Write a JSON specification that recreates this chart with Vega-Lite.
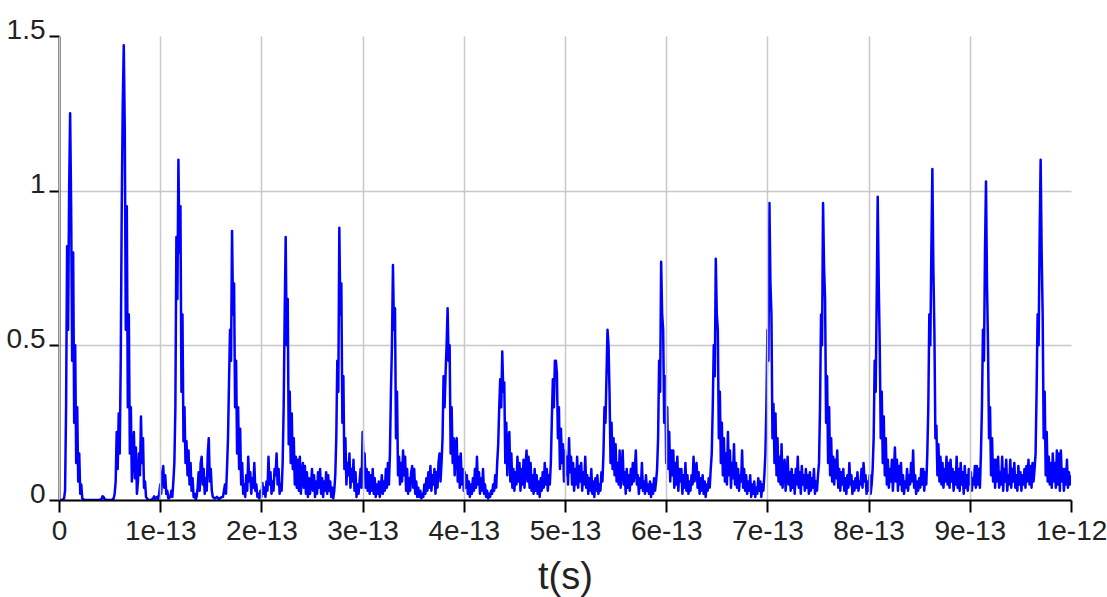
{
"$schema": "https://vega.github.io/schema/vega-lite/v6.json",
"width": 1012,
"height": 464,
"autosize": {"type": "none"},
"padding": {"left": 59, "top": 36, "right": 36, "bottom": 97},
"background": "white",
"config": {
  "view": {"stroke": null},
  "axis": {
    "domainColor": "#000000", "domainWidth": 2,
    "tickColor": "#000000", "tickWidth": 2,
    "labelFont": "Liberation Sans", "labelFontSize": 28, "labelColor": "#222222",
    "gridColor": "#c8c8c8", "gridWidth": 1.5,
    "titleFont": "Liberation Sans", "titleFontSize": 38, "titleFontWeight": "normal", "titleColor": "#222222"
  }
},
"data": {"values": [
{"t":0,"v":0},{"t":3e-15,"v":0},{"t":5e-15,"v":0.005},{"t":6e-15,"v":0.03},{"t":7e-15,"v":0.3},{"t":8e-15,"v":0.82},{"t":9e-15,"v":0.55},{"t":10e-15,"v":1.0},{"t":11e-15,"v":1.25},{"t":12e-15,"v":0.95},{"t":13e-15,"v":0.45},{"t":14e-15,"v":0.8},{"t":15e-15,"v":0.25},{"t":16e-15,"v":0.5},{"t":17e-15,"v":0.12},{"t":18e-15,"v":0.3},{"t":19e-15,"v":0.06},{"t":20e-15,"v":0.15},{"t":21e-15,"v":0.02},{"t":22e-15,"v":0.05},{"t":23e-15,"v":0.005},{"t":25e-15,"v":0},{"t":30e-15,"v":0},{"t":35e-15,"v":0},{"t":40e-15,"v":0},{"t":42e-15,"v":0.003},{"t":43e-15,"v":0.012},{"t":44e-15,"v":0.01},{"t":45e-15,"v":0.003},{"t":47e-15,"v":0},{"t":52e-15,"v":0},{"t":54e-15,"v":0.005},{"t":55e-15,"v":0.02},{"t":56e-15,"v":0.06},{"t":57e-15,"v":0.22},{"t":58e-15,"v":0.1},{"t":59e-15,"v":0.28},{"t":60e-15,"v":0.15},{"t":61e-15,"v":0.45},{"t":62e-15,"v":0.95},{"t":63e-15,"v":1.28},{"t":64e-15,"v":1.47},{"t":65e-15,"v":1.2},{"t":66e-15,"v":0.55},{"t":67e-15,"v":0.95},{"t":68e-15,"v":0.3},{"t":69e-15,"v":0.6},{"t":70e-15,"v":0.15},{"t":71e-15,"v":0.3},{"t":72e-15,"v":0.06},{"t":73e-15,"v":0.15},{"t":74e-15,"v":0.22},{"t":75e-15,"v":0.07},{"t":76e-15,"v":0.17},{"t":77e-15,"v":0.02},{"t":78e-15,"v":0.06},{"t":79e-15,"v":0.15},{"t":80e-15,"v":0.08},{"t":81e-15,"v":0.27},{"t":82e-15,"v":0.12},{"t":83e-15,"v":0.2},{"t":84e-15,"v":0.04},{"t":85e-15,"v":0.06},{"t":86e-15,"v":0.01},{"t":88e-15,"v":0},{"t":91e-15,"v":0},{"t":93e-15,"v":0.005},{"t":94e-15,"v":0.012},{"t":95e-15,"v":0.004},{"t":97e-15,"v":0.01},{"t":98e-15,"v":0.003},{"t":99e-15,"v":0.02},{"t":100e-15,"v":0.05},{"t":101e-15,"v":0.02},{"t":102e-15,"v":0.09},{"t":103e-15,"v":0.11},{"t":104e-15,"v":0.04},{"t":105e-15,"v":0.08},{"t":106e-15,"v":0.02},{"t":107e-15,"v":0.03},{"t":108e-15,"v":0.005},{"t":110e-15,"v":0.01},{"t":111e-15,"v":0.03},{"t":112e-15,"v":0.01},{"t":113e-15,"v":0.06},{"t":114e-15,"v":0.12},{"t":115e-15,"v":0.3},{"t":116e-15,"v":0.85},{"t":117e-15,"v":0.65},{"t":118e-15,"v":1.1},{"t":119e-15,"v":0.8},{"t":120e-15,"v":0.95},{"t":121e-15,"v":0.35},{"t":122e-15,"v":0.6},{"t":123e-15,"v":0.19},{"t":124e-15,"v":0.3},{"t":125e-15,"v":0.12},{"t":126e-15,"v":0.19},{"t":127e-15,"v":0.08},{"t":128e-15,"v":0.16},{"t":129e-15,"v":0.05},{"t":130e-15,"v":0.12},{"t":131e-15,"v":0.03},{"t":132e-15,"v":0.07},{"t":133e-15,"v":0.01},{"t":134e-15,"v":0.02},{"t":135e-15,"v":0.003},{"t":136e-15,"v":0.01},{"t":137e-15,"v":0.04},{"t":138e-15,"v":0.09},{"t":139e-15,"v":0.03},{"t":140e-15,"v":0.12},{"t":141e-15,"v":0.14},{"t":142e-15,"v":0.05},{"t":143e-15,"v":0.1},{"t":144e-15,"v":0.02},{"t":145e-15,"v":0.07},{"t":146e-15,"v":0.03},{"t":147e-15,"v":0.15},{"t":148e-15,"v":0.2},{"t":149e-15,"v":0.06},{"t":150e-15,"v":0.1},{"t":151e-15,"v":0.03},{"t":152e-15,"v":0.01},{"t":154e-15,"v":0.005},{"t":156e-15,"v":0.01},{"t":158e-15,"v":0.003},{"t":160e-15,"v":0.008},{"t":162e-15,"v":0.01},{"t":163e-15,"v":0.03},{"t":164e-15,"v":0.05},{"t":165e-15,"v":0.02},{"t":166e-15,"v":0.1},{"t":167e-15,"v":0.2},{"t":168e-15,"v":0.38},{"t":169e-15,"v":0.55},{"t":170e-15,"v":0.45},{"t":171e-15,"v":0.87},{"t":172e-15,"v":0.6},{"t":173e-15,"v":0.7},{"t":174e-15,"v":0.3},{"t":175e-15,"v":0.45},{"t":176e-15,"v":0.15},{"t":177e-15,"v":0.3},{"t":178e-15,"v":0.1},{"t":179e-15,"v":0.23},{"t":180e-15,"v":0.05},{"t":181e-15,"v":0.12},{"t":182e-15,"v":0.02},{"t":183e-15,"v":0.05},{"t":184e-15,"v":0.01},{"t":185e-15,"v":0.08},{"t":186e-15,"v":0.03},{"t":187e-15,"v":0.14},{"t":188e-15,"v":0.06},{"t":189e-15,"v":0.09},{"t":190e-15,"v":0.02},{"t":191e-15,"v":0.07},{"t":192e-15,"v":0.04},{"t":193e-15,"v":0.12},{"t":194e-15,"v":0.03},{"t":195e-15,"v":0.05},{"t":196e-15,"v":0.01},{"t":197e-15,"v":0.02},{"t":198e-15,"v":0.005},{"t":199e-15,"v":0.03},{"t":200e-15,"v":0.01},{"t":201e-15,"v":0.055},{"t":202e-15,"v":0.02},{"t":203e-15,"v":0.04},{"t":204e-15,"v":0.01},{"t":205e-15,"v":0.06},{"t":206e-15,"v":0.03},{"t":207e-15,"v":0.14},{"t":208e-15,"v":0.05},{"t":209e-15,"v":0.09},{"t":210e-15,"v":0.02},{"t":211e-15,"v":0.06},{"t":212e-15,"v":0.03},{"t":213e-15,"v":0.1},{"t":214e-15,"v":0.08},{"t":215e-15,"v":0.15},{"t":216e-15,"v":0.05},{"t":217e-15,"v":0.1},{"t":218e-15,"v":0.02},{"t":219e-15,"v":0.05},{"t":220e-15,"v":0.03},{"t":221e-15,"v":0.12},{"t":222e-15,"v":0.3},{"t":223e-15,"v":0.6},{"t":224e-15,"v":0.85},{"t":225e-15,"v":0.5},{"t":226e-15,"v":0.65},{"t":227e-15,"v":0.18},{"t":228e-15,"v":0.35},{"t":229e-15,"v":0.12},{"t":230e-15,"v":0.28},{"t":231e-15,"v":0.1},{"t":232e-15,"v":0.2},{"t":233e-15,"v":0.05},{"t":234e-15,"v":0.14},{"t":235e-15,"v":0.04},{"t":236e-15,"v":0.13},{"t":237e-15,"v":0.03},{"t":238e-15,"v":0.14},{"t":239e-15,"v":0.02},{"t":240e-15,"v":0.08},{"t":241e-15,"v":0.12},{"t":242e-15,"v":0.04},{"t":243e-15,"v":0.11},{"t":244e-15,"v":0.02},{"t":245e-15,"v":0.09},{"t":246e-15,"v":0.01},{"t":247e-15,"v":0.07},{"t":248e-15,"v":0.02},{"t":249e-15,"v":0.05},
{"t":250e-15,"v":0.1},{"t":251e-15,"v":0.03},{"t":252e-15,"v":0.08},{"t":253e-15,"v":0.01},{"t":254e-15,"v":0.06},{"t":255e-15,"v":0.02},{"t":256e-15,"v":0.09},{"t":257e-15,"v":0.04},{"t":258e-15,"v":0.1},{"t":259e-15,"v":0.02},{"t":260e-15,"v":0.07},{"t":261e-15,"v":0.01},{"t":262e-15,"v":0.06},{"t":263e-15,"v":0.03},{"t":264e-15,"v":0.09},{"t":265e-15,"v":0.02},{"t":266e-15,"v":0.08},{"t":267e-15,"v":0.03},{"t":268e-15,"v":0.06},{"t":269e-15,"v":0.01},{"t":270e-15,"v":0.04},{"t":271e-15,"v":0.005},{"t":272e-15,"v":0.03},{"t":273e-15,"v":0.08},{"t":274e-15,"v":0.2},{"t":275e-15,"v":0.45},{"t":276e-15,"v":0.35},{"t":277e-15,"v":0.88},{"t":278e-15,"v":0.6},{"t":279e-15,"v":0.7},{"t":280e-15,"v":0.25},{"t":281e-15,"v":0.4},{"t":282e-15,"v":0.1},{"t":283e-15,"v":0.2},{"t":284e-15,"v":0.05},{"t":285e-15,"v":0.12},{"t":286e-15,"v":0.08},{"t":287e-15,"v":0.15},{"t":288e-15,"v":0.04},{"t":289e-15,"v":0.1},{"t":290e-15,"v":0.06},{"t":291e-15,"v":0.13},{"t":292e-15,"v":0.03},{"t":293e-15,"v":0.09},{"t":294e-15,"v":0.01},{"t":295e-15,"v":0.05},{"t":296e-15,"v":0.02},{"t":297e-15,"v":0.06},{"t":298e-15,"v":0.1},{"t":299e-15,"v":0.04},{"t":300e-15,"v":0.22},{"t":301e-15,"v":0.12},{"t":302e-15,"v":0.15},{"t":303e-15,"v":0.04},{"t":304e-15,"v":0.1},{"t":305e-15,"v":0.03},{"t":306e-15,"v":0.09},{"t":307e-15,"v":0.02},{"t":308e-15,"v":0.08},{"t":309e-15,"v":0.03},{"t":310e-15,"v":0.1},{"t":311e-15,"v":0.02},{"t":312e-15,"v":0.07},{"t":313e-15,"v":0.01},{"t":314e-15,"v":0.05},{"t":315e-15,"v":0.02},{"t":316e-15,"v":0.06},{"t":317e-15,"v":0.01},{"t":318e-15,"v":0.04},{"t":319e-15,"v":0.08},{"t":320e-15,"v":0.02},{"t":321e-15,"v":0.06},{"t":322e-15,"v":0.03},{"t":323e-15,"v":0.1},{"t":324e-15,"v":0.04},{"t":325e-15,"v":0.12},{"t":326e-15,"v":0.05},{"t":327e-15,"v":0.15},{"t":328e-15,"v":0.35},{"t":329e-15,"v":0.5},{"t":330e-15,"v":0.76},{"t":331e-15,"v":0.55},{"t":332e-15,"v":0.62},{"t":333e-15,"v":0.2},{"t":334e-15,"v":0.35},{"t":335e-15,"v":0.08},{"t":336e-15,"v":0.14},{"t":337e-15,"v":0.05},{"t":338e-15,"v":0.12},{"t":339e-15,"v":0.06},{"t":340e-15,"v":0.16},{"t":341e-15,"v":0.08},{"t":342e-15,"v":0.14},{"t":343e-15,"v":0.03},{"t":344e-15,"v":0.1},{"t":345e-15,"v":0.02},{"t":346e-15,"v":0.07},{"t":347e-15,"v":0.03},{"t":348e-15,"v":0.09},{"t":349e-15,"v":0.11},{"t":350e-15,"v":0.04},{"t":351e-15,"v":0.1},{"t":352e-15,"v":0.02},{"t":353e-15,"v":0.06},{"t":354e-15,"v":0.01},{"t":355e-15,"v":0.04},{"t":356e-15,"v":0.01},{"t":357e-15,"v":0.03},{"t":358e-15,"v":0.005},{"t":359e-15,"v":0.02},{"t":360e-15,"v":0.01},{"t":361e-15,"v":0.05},{"t":362e-15,"v":0.02},{"t":363e-15,"v":0.07},{"t":364e-15,"v":0.03},{"t":365e-15,"v":0.09},{"t":366e-15,"v":0.04},{"t":367e-15,"v":0.11},{"t":368e-15,"v":0.03},{"t":369e-15,"v":0.08},{"t":370e-15,"v":0.05},{"t":371e-15,"v":0.1},{"t":372e-15,"v":0.02},{"t":373e-15,"v":0.09},{"t":374e-15,"v":0.04},{"t":375e-15,"v":0.12},{"t":376e-15,"v":0.15},{"t":377e-15,"v":0.06},{"t":378e-15,"v":0.12},{"t":379e-15,"v":0.2},{"t":380e-15,"v":0.4},{"t":381e-15,"v":0.3},{"t":382e-15,"v":0.41},{"t":383e-15,"v":0.5},{"t":384e-15,"v":0.62},{"t":385e-15,"v":0.45},{"t":386e-15,"v":0.5},{"t":387e-15,"v":0.15},{"t":388e-15,"v":0.3},{"t":389e-15,"v":0.12},{"t":390e-15,"v":0.2},{"t":391e-15,"v":0.08},{"t":392e-15,"v":0.18},{"t":393e-15,"v":0.2},{"t":394e-15,"v":0.06},{"t":395e-15,"v":0.14},{"t":396e-15,"v":0.04},{"t":397e-15,"v":0.15},{"t":398e-15,"v":0.05},{"t":399e-15,"v":0.1},{"t":400e-15,"v":0.03},{"t":401e-15,"v":0.09},{"t":402e-15,"v":0.04},{"t":403e-15,"v":0.08},{"t":404e-15,"v":0.02},{"t":405e-15,"v":0.06},{"t":406e-15,"v":0.01},{"t":407e-15,"v":0.05},{"t":408e-15,"v":0.02},{"t":409e-15,"v":0.07},{"t":410e-15,"v":0.03},{"t":411e-15,"v":0.1},{"t":412e-15,"v":0.04},{"t":413e-15,"v":0.14},{"t":414e-15,"v":0.05},{"t":415e-15,"v":0.09},{"t":416e-15,"v":0.02},{"t":417e-15,"v":0.07},{"t":418e-15,"v":0.03},{"t":419e-15,"v":0.1},{"t":420e-15,"v":0.02},{"t":421e-15,"v":0.05},{"t":422e-15,"v":0.01},{"t":423e-15,"v":0.03},{"t":424e-15,"v":0.005},{"t":425e-15,"v":0.02},{"t":426e-15,"v":0.01},{"t":427e-15,"v":0.03},{"t":428e-15,"v":0.02},{"t":429e-15,"v":0.05},{"t":430e-15,"v":0.03},{"t":431e-15,"v":0.08},{"t":432e-15,"v":0.04},{"t":433e-15,"v":0.12},{"t":434e-15,"v":0.18},{"t":435e-15,"v":0.3},{"t":436e-15,"v":0.39},{"t":437e-15,"v":0.3},{"t":438e-15,"v":0.48},{"t":439e-15,"v":0.35},{"t":440e-15,"v":0.38},{"t":441e-15,"v":0.12},{"t":442e-15,"v":0.25},{"t":443e-15,"v":0.08},{"t":444e-15,"v":0.2},{"t":445e-15,"v":0.22},{"t":446e-15,"v":0.06},{"t":447e-15,"v":0.15},{"t":448e-15,"v":0.04},{"t":449e-15,"v":0.1},
{"t":450e-15,"v":0.03},{"t":451e-15,"v":0.09},{"t":452e-15,"v":0.05},{"t":453e-15,"v":0.14},{"t":454e-15,"v":0.06},{"t":455e-15,"v":0.12},{"t":456e-15,"v":0.03},{"t":457e-15,"v":0.1},{"t":458e-15,"v":0.05},{"t":459e-15,"v":0.13},{"t":460e-15,"v":0.04},{"t":461e-15,"v":0.11},{"t":462e-15,"v":0.16},{"t":463e-15,"v":0.06},{"t":464e-15,"v":0.14},{"t":465e-15,"v":0.04},{"t":466e-15,"v":0.12},{"t":467e-15,"v":0.03},{"t":468e-15,"v":0.08},{"t":469e-15,"v":0.02},{"t":470e-15,"v":0.1},{"t":471e-15,"v":0.03},{"t":472e-15,"v":0.08},{"t":473e-15,"v":0.02},{"t":474e-15,"v":0.06},{"t":475e-15,"v":0.01},{"t":476e-15,"v":0.07},{"t":477e-15,"v":0.03},{"t":478e-15,"v":0.09},{"t":479e-15,"v":0.04},{"t":480e-15,"v":0.12},{"t":481e-15,"v":0.05},{"t":482e-15,"v":0.1},{"t":483e-15,"v":0.03},{"t":484e-15,"v":0.08},{"t":485e-15,"v":0.05},{"t":486e-15,"v":0.12},{"t":487e-15,"v":0.26},{"t":488e-15,"v":0.39},{"t":489e-15,"v":0.3},{"t":490e-15,"v":0.45},{"t":491e-15,"v":0.45},{"t":492e-15,"v":0.41},{"t":493e-15,"v":0.2},{"t":494e-15,"v":0.3},{"t":495e-15,"v":0.1},{"t":496e-15,"v":0.23},{"t":497e-15,"v":0.12},{"t":498e-15,"v":0.18},{"t":499e-15,"v":0.06},{"t":500e-15,"v":0.16},{"t":501e-15,"v":0.08},{"t":502e-15,"v":0.14},{"t":503e-15,"v":0.05},{"t":504e-15,"v":0.2},{"t":505e-15,"v":0.09},{"t":506e-15,"v":0.14},{"t":507e-15,"v":0.05},{"t":508e-15,"v":0.12},{"t":509e-15,"v":0.03},{"t":510e-15,"v":0.1},{"t":511e-15,"v":0.05},{"t":512e-15,"v":0.14},{"t":513e-15,"v":0.04},{"t":514e-15,"v":0.11},{"t":515e-15,"v":0.06},{"t":516e-15,"v":0.12},{"t":517e-15,"v":0.03},{"t":518e-15,"v":0.09},{"t":519e-15,"v":0.05},{"t":520e-15,"v":0.14},{"t":521e-15,"v":0.04},{"t":522e-15,"v":0.08},{"t":523e-15,"v":0.02},{"t":524e-15,"v":0.07},{"t":525e-15,"v":0.03},{"t":526e-15,"v":0.1},{"t":527e-15,"v":0.02},{"t":528e-15,"v":0.06},{"t":529e-15,"v":0.01},{"t":530e-15,"v":0.07},{"t":531e-15,"v":0.03},{"t":532e-15,"v":0.08},{"t":533e-15,"v":0.02},{"t":534e-15,"v":0.05},{"t":535e-15,"v":0.03},{"t":536e-15,"v":0.09},{"t":537e-15,"v":0.06},{"t":538e-15,"v":0.15},{"t":539e-15,"v":0.3},{"t":540e-15,"v":0.25},{"t":541e-15,"v":0.4},{"t":542e-15,"v":0.55},{"t":543e-15,"v":0.5},{"t":544e-15,"v":0.35},{"t":545e-15,"v":0.12},{"t":546e-15,"v":0.25},{"t":547e-15,"v":0.1},{"t":548e-15,"v":0.2},{"t":549e-15,"v":0.08},{"t":550e-15,"v":0.18},{"t":551e-15,"v":0.06},{"t":552e-15,"v":0.12},{"t":553e-15,"v":0.05},{"t":554e-15,"v":0.16},{"t":555e-15,"v":0.04},{"t":556e-15,"v":0.1},{"t":557e-15,"v":0.16},{"t":558e-15,"v":0.05},{"t":559e-15,"v":0.09},{"t":560e-15,"v":0.02},{"t":561e-15,"v":0.1},{"t":562e-15,"v":0.04},{"t":563e-15,"v":0.08},{"t":564e-15,"v":0.03},{"t":565e-15,"v":0.1},{"t":566e-15,"v":0.05},{"t":567e-15,"v":0.12},{"t":568e-15,"v":0.06},{"t":569e-15,"v":0.1},{"t":570e-15,"v":0.16},{"t":571e-15,"v":0.05},{"t":572e-15,"v":0.08},{"t":573e-15,"v":0.02},{"t":574e-15,"v":0.07},{"t":575e-15,"v":0.04},{"t":576e-15,"v":0.12},{"t":577e-15,"v":0.03},{"t":578e-15,"v":0.06},{"t":579e-15,"v":0.02},{"t":580e-15,"v":0.08},{"t":581e-15,"v":0.03},{"t":582e-15,"v":0.05},{"t":583e-15,"v":0.02},{"t":584e-15,"v":0.06},{"t":585e-15,"v":0.01},{"t":586e-15,"v":0.05},{"t":587e-15,"v":0.02},{"t":588e-15,"v":0.07},{"t":589e-15,"v":0.03},{"t":590e-15,"v":0.06},{"t":591e-15,"v":0.1},{"t":592e-15,"v":0.2},{"t":593e-15,"v":0.45},{"t":594e-15,"v":0.35},{"t":595e-15,"v":0.77},{"t":596e-15,"v":0.6},{"t":597e-15,"v":0.55},{"t":598e-15,"v":0.25},{"t":599e-15,"v":0.4},{"t":600e-15,"v":0.12},{"t":601e-15,"v":0.3},{"t":602e-15,"v":0.1},{"t":603e-15,"v":0.22},{"t":604e-15,"v":0.06},{"t":605e-15,"v":0.16},{"t":606e-15,"v":0.08},{"t":607e-15,"v":0.16},{"t":608e-15,"v":0.04},{"t":609e-15,"v":0.12},{"t":610e-15,"v":0.05},{"t":611e-15,"v":0.14},{"t":612e-15,"v":0.03},{"t":613e-15,"v":0.1},{"t":614e-15,"v":0.06},{"t":615e-15,"v":0.1},{"t":616e-15,"v":0.02},{"t":617e-15,"v":0.08},{"t":618e-15,"v":0.04},{"t":619e-15,"v":0.12},{"t":620e-15,"v":0.03},{"t":621e-15,"v":0.08},{"t":622e-15,"v":0.02},{"t":623e-15,"v":0.06},{"t":624e-15,"v":0.03},{"t":625e-15,"v":0.08},{"t":626e-15,"v":0.05},{"t":627e-15,"v":0.14},{"t":628e-15,"v":0.06},{"t":629e-15,"v":0.1},{"t":630e-15,"v":0.12},{"t":631e-15,"v":0.04},{"t":632e-15,"v":0.09},{"t":633e-15,"v":0.02},{"t":634e-15,"v":0.07},{"t":635e-15,"v":0.03},{"t":636e-15,"v":0.08},{"t":637e-15,"v":0.02},{"t":638e-15,"v":0.06},{"t":639e-15,"v":0.01},{"t":640e-15,"v":0.05},{"t":641e-15,"v":0.03},{"t":642e-15,"v":0.07},{"t":643e-15,"v":0.04},{"t":644e-15,"v":0.1},{"t":645e-15,"v":0.15},{"t":646e-15,"v":0.3},{"t":647e-15,"v":0.5},{"t":648e-15,"v":0.4},{"t":649e-15,"v":0.78},{"t":650e-15,"v":0.6},{"t":651e-15,"v":0.55},{"t":652e-15,"v":0.2},{"t":653e-15,"v":0.35},{"t":654e-15,"v":0.12},{"t":655e-15,"v":0.25},{"t":656e-15,"v":0.08},{"t":657e-15,"v":0.2},{"t":658e-15,"v":0.06},{"t":659e-15,"v":0.15},{"t":660e-15,"v":0.05},{"t":661e-15,"v":0.22},{"t":662e-15,"v":0.08},{"t":663e-15,"v":0.16},{"t":664e-15,"v":0.04},{"t":665e-15,"v":0.12},{"t":666e-15,"v":0.07},{"t":667e-15,"v":0.18},{"t":668e-15,"v":0.05},{"t":669e-15,"v":0.12},{"t":670e-15,"v":0.04},{"t":671e-15,"v":0.1},{"t":672e-15,"v":0.03},{"t":673e-15,"v":0.08},{"t":674e-15,"v":0.06},{"t":675e-15,"v":0.16},{"t":676e-15,"v":0.04},{"t":677e-15,"v":0.1},{"t":678e-15,"v":0.03},{"t":679e-15,"v":0.08},{"t":680e-15,"v":0.02},{"t":681e-15,"v":0.06},{"t":682e-15,"v":0.03},{"t":683e-15,"v":0.08},{"t":684e-15,"v":0.01},{"t":685e-15,"v":0.05},{"t":686e-15,"v":0.02},{"t":687e-15,"v":0.06},{"t":688e-15,"v":0.01},{"t":689e-15,"v":0.04},{"t":690e-15,"v":0.02},{"t":691e-15,"v":0.07},{"t":692e-15,"v":0.03},{"t":693e-15,"v":0.06},{"t":694e-15,"v":0.01},{"t":695e-15,"v":0.05},{"t":696e-15,"v":0.03},{"t":697e-15,"v":0.08},{"t":698e-15,"v":0.15},{"t":699e-15,"v":0.3},
{"t":700e-15,"v":0.55},{"t":701e-15,"v":0.45},{"t":702e-15,"v":0.96},{"t":703e-15,"v":0.7},{"t":704e-15,"v":0.6},{"t":705e-15,"v":0.2},{"t":706e-15,"v":0.31},{"t":707e-15,"v":0.12},{"t":708e-15,"v":0.28},{"t":709e-15,"v":0.08},{"t":710e-15,"v":0.2},{"t":711e-15,"v":0.06},{"t":712e-15,"v":0.14},{"t":713e-15,"v":0.05},{"t":714e-15,"v":0.18},{"t":715e-15,"v":0.04},{"t":716e-15,"v":0.1},{"t":717e-15,"v":0.13},{"t":718e-15,"v":0.03},{"t":719e-15,"v":0.08},{"t":720e-15,"v":0.14},{"t":721e-15,"v":0.05},{"t":722e-15,"v":0.09},{"t":723e-15,"v":0.03},{"t":724e-15,"v":0.1},{"t":725e-15,"v":0.04},{"t":726e-15,"v":0.08},{"t":727e-15,"v":0.02},{"t":728e-15,"v":0.1},{"t":729e-15,"v":0.05},{"t":730e-15,"v":0.14},{"t":731e-15,"v":0.04},{"t":732e-15,"v":0.09},{"t":733e-15,"v":0.02},{"t":734e-15,"v":0.11},{"t":735e-15,"v":0.05},{"t":736e-15,"v":0.08},{"t":737e-15,"v":0.03},{"t":738e-15,"v":0.1},{"t":739e-15,"v":0.04},{"t":740e-15,"v":0.08},{"t":741e-15,"v":0.02},{"t":742e-15,"v":0.09},{"t":743e-15,"v":0.03},{"t":744e-15,"v":0.07},{"t":745e-15,"v":0.04},{"t":746e-15,"v":0.1},{"t":747e-15,"v":0.02},{"t":748e-15,"v":0.06},{"t":749e-15,"v":0.03},{"t":750e-15,"v":0.08},{"t":751e-15,"v":0.12},{"t":752e-15,"v":0.3},{"t":753e-15,"v":0.6},{"t":754e-15,"v":0.5},{"t":755e-15,"v":0.96},{"t":756e-15,"v":0.75},{"t":757e-15,"v":0.65},{"t":758e-15,"v":0.25},{"t":759e-15,"v":0.4},{"t":760e-15,"v":0.12},{"t":761e-15,"v":0.3},{"t":762e-15,"v":0.08},{"t":763e-15,"v":0.2},{"t":764e-15,"v":0.06},{"t":765e-15,"v":0.14},{"t":766e-15,"v":0.05},{"t":767e-15,"v":0.13},{"t":768e-15,"v":0.07},{"t":769e-15,"v":0.16},{"t":770e-15,"v":0.04},{"t":771e-15,"v":0.1},{"t":772e-15,"v":0.03},{"t":773e-15,"v":0.09},{"t":774e-15,"v":0.05},{"t":775e-15,"v":0.1},{"t":776e-15,"v":0.03},{"t":777e-15,"v":0.07},{"t":778e-15,"v":0.02},{"t":779e-15,"v":0.08},{"t":780e-15,"v":0.04},{"t":781e-15,"v":0.12},{"t":782e-15,"v":0.05},{"t":783e-15,"v":0.08},{"t":784e-15,"v":0.02},{"t":785e-15,"v":0.06},{"t":786e-15,"v":0.03},{"t":787e-15,"v":0.07},{"t":788e-15,"v":0.04},{"t":789e-15,"v":0.09},{"t":790e-15,"v":0.03},{"t":791e-15,"v":0.06},{"t":792e-15,"v":0.05},{"t":793e-15,"v":0.1},{"t":794e-15,"v":0.04},{"t":795e-15,"v":0.12},{"t":796e-15,"v":0.06},{"t":797e-15,"v":0.08},{"t":798e-15,"v":0.02},{"t":799e-15,"v":0.06},{"t":800e-15,"v":0.03},{"t":801e-15,"v":0.08},{"t":802e-15,"v":0.02},{"t":803e-15,"v":0.05},{"t":804e-15,"v":0.1},{"t":805e-15,"v":0.2},{"t":806e-15,"v":0.45},{"t":807e-15,"v":0.35},{"t":808e-15,"v":0.65},{"t":809e-15,"v":0.98},{"t":810e-15,"v":0.7},{"t":811e-15,"v":0.5},{"t":812e-15,"v":0.2},{"t":813e-15,"v":0.35},{"t":814e-15,"v":0.12},{"t":815e-15,"v":0.27},{"t":816e-15,"v":0.08},{"t":817e-15,"v":0.2},{"t":818e-15,"v":0.05},{"t":819e-15,"v":0.13},{"t":820e-15,"v":0.04},{"t":821e-15,"v":0.1},{"t":822e-15,"v":0.06},{"t":823e-15,"v":0.13},{"t":824e-15,"v":0.03},{"t":825e-15,"v":0.09},{"t":826e-15,"v":0.17},{"t":827e-15,"v":0.06},{"t":828e-15,"v":0.13},{"t":829e-15,"v":0.03},{"t":830e-15,"v":0.11},{"t":831e-15,"v":0.05},{"t":832e-15,"v":0.12},{"t":833e-15,"v":0.03},{"t":834e-15,"v":0.08},{"t":835e-15,"v":0.02},{"t":836e-15,"v":0.06},{"t":837e-15,"v":0.04},{"t":838e-15,"v":0.1},{"t":839e-15,"v":0.03},{"t":840e-15,"v":0.08},{"t":841e-15,"v":0.05},{"t":842e-15,"v":0.12},{"t":843e-15,"v":0.06},{"t":844e-15,"v":0.16},{"t":845e-15,"v":0.04},{"t":846e-15,"v":0.08},{"t":847e-15,"v":0.02},{"t":848e-15,"v":0.06},{"t":849e-15,"v":0.03},{"t":850e-15,"v":0.07},{"t":851e-15,"v":0.04},{"t":852e-15,"v":0.1},{"t":853e-15,"v":0.05},{"t":854e-15,"v":0.1},{"t":855e-15,"v":0.03},{"t":856e-15,"v":0.09},{"t":857e-15,"v":0.05},{"t":858e-15,"v":0.15},{"t":859e-15,"v":0.3},{"t":860e-15,"v":0.6},{"t":861e-15,"v":0.5},{"t":862e-15,"v":0.8},{"t":863e-15,"v":1.07},{"t":864e-15,"v":0.75},{"t":865e-15,"v":0.55},{"t":866e-15,"v":0.2},{"t":867e-15,"v":0.24},{"t":868e-15,"v":0.08},{"t":869e-15,"v":0.18},{"t":870e-15,"v":0.06},{"t":871e-15,"v":0.14},{"t":872e-15,"v":0.05},{"t":873e-15,"v":0.12},{"t":874e-15,"v":0.04},{"t":875e-15,"v":0.1},{"t":876e-15,"v":0.06},{"t":877e-15,"v":0.14},{"t":878e-15,"v":0.05},{"t":879e-15,"v":0.12},{"t":880e-15,"v":0.04},{"t":881e-15,"v":0.13},{"t":882e-15,"v":0.06},{"t":883e-15,"v":0.1},{"t":884e-15,"v":0.03},{"t":885e-15,"v":0.09},{"t":886e-15,"v":0.05},{"t":887e-15,"v":0.14},{"t":888e-15,"v":0.04},{"t":889e-15,"v":0.1},{"t":890e-15,"v":0.03},{"t":891e-15,"v":0.12},{"t":892e-15,"v":0.05},{"t":893e-15,"v":0.09},{"t":894e-15,"v":0.02},{"t":895e-15,"v":0.11},{"t":896e-15,"v":0.04},{"t":897e-15,"v":0.08},{"t":898e-15,"v":0.03},{"t":899e-15,"v":0.1},
{"t":900e-15,"v":0.05},{"t":901e-15,"v":0.09},{"t":902e-15,"v":0.03},{"t":903e-15,"v":0.07},{"t":904e-15,"v":0.05},{"t":905e-15,"v":0.11},{"t":906e-15,"v":0.04},{"t":907e-15,"v":0.11},{"t":908e-15,"v":0.05},{"t":909e-15,"v":0.1},{"t":910e-15,"v":0.04},{"t":911e-15,"v":0.15},{"t":912e-15,"v":0.3},{"t":913e-15,"v":0.55},{"t":914e-15,"v":0.45},{"t":915e-15,"v":0.8},{"t":916e-15,"v":1.03},{"t":917e-15,"v":0.7},{"t":918e-15,"v":0.5},{"t":919e-15,"v":0.2},{"t":920e-15,"v":0.3},{"t":921e-15,"v":0.08},{"t":922e-15,"v":0.2},{"t":923e-15,"v":0.06},{"t":924e-15,"v":0.13},{"t":925e-15,"v":0.04},{"t":926e-15,"v":0.13},{"t":927e-15,"v":0.06},{"t":928e-15,"v":0.14},{"t":929e-15,"v":0.04},{"t":930e-15,"v":0.09},{"t":931e-15,"v":0.05},{"t":932e-15,"v":0.14},{"t":933e-15,"v":0.03},{"t":934e-15,"v":0.1},{"t":935e-15,"v":0.06},{"t":936e-15,"v":0.13},{"t":937e-15,"v":0.03},{"t":938e-15,"v":0.08},{"t":939e-15,"v":0.05},{"t":940e-15,"v":0.13},{"t":941e-15,"v":0.04},{"t":942e-15,"v":0.1},{"t":943e-15,"v":0.06},{"t":944e-15,"v":0.12},{"t":945e-15,"v":0.04},{"t":946e-15,"v":0.08},{"t":947e-15,"v":0.03},{"t":948e-15,"v":0.11},{"t":949e-15,"v":0.05},{"t":950e-15,"v":0.09},{"t":951e-15,"v":0.03},{"t":952e-15,"v":0.08},{"t":953e-15,"v":0.05},{"t":954e-15,"v":0.1},{"t":955e-15,"v":0.04},{"t":956e-15,"v":0.11},{"t":957e-15,"v":0.06},{"t":958e-15,"v":0.13},{"t":959e-15,"v":0.05},{"t":960e-15,"v":0.11},{"t":961e-15,"v":0.04},{"t":962e-15,"v":0.12},{"t":963e-15,"v":0.06},{"t":964e-15,"v":0.1},{"t":965e-15,"v":0.15},{"t":966e-15,"v":0.35},{"t":967e-15,"v":0.6},{"t":968e-15,"v":0.5},{"t":969e-15,"v":0.85},{"t":970e-15,"v":1.1},{"t":971e-15,"v":0.8},{"t":972e-15,"v":0.6},{"t":973e-15,"v":0.2},{"t":974e-15,"v":0.35},{"t":975e-15,"v":0.08},{"t":976e-15,"v":0.22},{"t":977e-15,"v":0.06},{"t":978e-15,"v":0.14},{"t":979e-15,"v":0.05},{"t":980e-15,"v":0.12},{"t":981e-15,"v":0.04},{"t":982e-15,"v":0.15},{"t":983e-15,"v":0.06},{"t":984e-15,"v":0.12},{"t":985e-15,"v":0.04},{"t":986e-15,"v":0.16},{"t":987e-15,"v":0.05},{"t":988e-15,"v":0.15},{"t":989e-15,"v":0.03},{"t":990e-15,"v":0.16},{"t":991e-15,"v":0.06},{"t":992e-15,"v":0.1},{"t":993e-15,"v":0.03},{"t":994e-15,"v":0.1},{"t":995e-15,"v":0.05},{"t":996e-15,"v":0.13},{"t":997e-15,"v":0.04},{"t":998e-15,"v":0.09},{"t":999e-15,"v":0.05},{"t":1000e-15,"v":0.08}
]},
"mark": {"type": "line", "color": "#0000ff", "strokeWidth": 2.5, "strokeJoin": "round", "clip": true},
"encoding": {
  "x": {
    "field": "t", "type": "quantitative",
    "scale": {"domain": [0, 1e-12], "nice": false, "zero": false},
    "axis": {
      "values": [0, 1e-13, 2e-13, 3e-13, 4e-13, 5e-13, 6e-13, 7e-13, 8e-13, 9e-13, 1e-12],
      "labelExpr": "datum.value == 0 ? '0' : format(datum.value, '.0e')",
      "tickSize": 12, "labelPadding": 5, "titlePadding": 13,
      "grid": true,
      "gridOpacity": {"condition": {"test": "datum.value > 9.5e-13", "value": 0}, "value": 1},
      "labelFlush": false, "labelOverlap": false, "zindex": 1
    },
    "title": "t(s)"
  },
  "y": {
    "field": "v", "type": "quantitative",
    "scale": {"domain": [0, 1.5], "nice": false},
    "axis": {
      "values": [0, 0.5, 1, 1.5],
      "format": "~g",
      "tickSize": 10, "labelPadding": 4, "labelOffset": -6,
      "grid": true,
      "gridOpacity": {"condition": {"test": "datum.value > 1.2", "value": 0}, "value": 1},
      "labelFlush": false, "labelOverlap": false
    },
    "title": null
  }
}
}
